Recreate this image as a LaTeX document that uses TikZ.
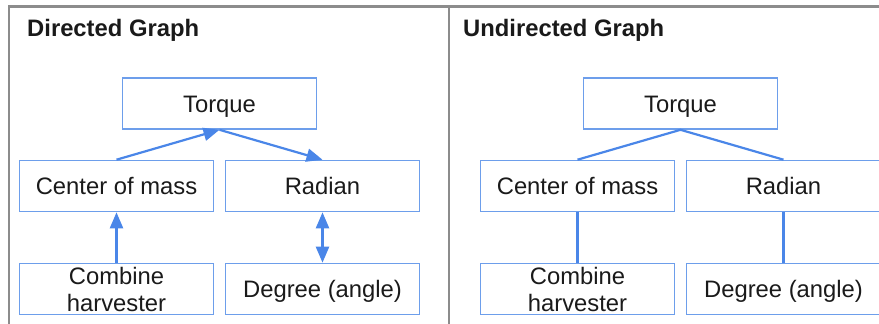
\documentclass[tikz,border=0pt]{standalone}
\usepackage{fontspec}
\setmainfont{Liberation Sans}
\usetikzlibrary{arrows.meta}
\definecolor{lineblue}{HTML}{4A86E8}
\definecolor{boxblue}{HTML}{6D9EEB}
\definecolor{framegray}{HTML}{8C8C8C}
\definecolor{txt}{HTML}{1A1A1A}
\tikzset{>={Triangle[length=16pt,width=13pt]}}
\tikzset{
  concept/.style={draw=boxblue, line width=1.6pt, minimum width=194pt,
    minimum height=51pt, inner sep=0pt, text=txt,
    font=\fontsize{23.8}{27}\selectfont},
  oneline/.style={concept, text height=17pt, text depth=0pt},
  twoline/.style={concept, align=center},
  link/.style={lineblue, line width=2.2pt},
  heading/.style={anchor=base west, inner sep=0pt, text=txt,
    font=\bfseries\fontsize{23.8}{27}\selectfont},
  frame/.style={framegray, line width=2.2pt}
}

\begin{document}
\begin{tikzpicture}[x=1pt, y=-1pt]
    \useasboundingbox (0,0) rectangle (879,324);
    \clip (0,0) rectangle (879,324);
    \draw[frame] (9,324) -- (9,6.5) -- (879,6.5);
    \draw[frame] (449,6.5) -- (449,324);

    % directed
    \node[heading] (titleD) at (27,36) {Directed Graph};
    \node[oneline] (torqueD) at (219.5,103.5) {Torque};
    \node[oneline] (comD) at (116.5,186) {Center of mass};
    \node[oneline] (radianD) at (322.5,186) {Radian};
    \node[twoline] (combineD) at (116.5,289) {Combine\\harvester};
    \node[oneline] (degreeD) at (322.5,289) {Degree (angle)};
    \draw[link, ->] (comD.north) -- (torqueD.south);
    \draw[link, ->] (torqueD.south) -- (radianD.north);
    \draw[link, ->] (combineD.north) -- (comD.south);
    \draw[link, <->] (degreeD.north) -- (radianD.south);

    % undirected
    \node[heading] (titleU) at (463,36) {Undirected Graph};
    \node[oneline] (torqueU) at (680.5,103.5) {Torque};
    \node[oneline] (comU) at (577.5,186) {Center of mass};
    \node[oneline] (radianU) at (783.5,186) {Radian};
    \node[twoline] (combineU) at (577.5,289) {Combine\\harvester};
    \node[oneline] (degreeU) at (783.5,289) {Degree (angle)};
    \draw[link] (comU.north) -- (torqueU.south) -- (radianU.north);
    \draw[link] (combineU.north) -- (comU.south);
    \draw[link] (degreeU.north) -- (radianU.south);
\end{tikzpicture}
\end{document}
